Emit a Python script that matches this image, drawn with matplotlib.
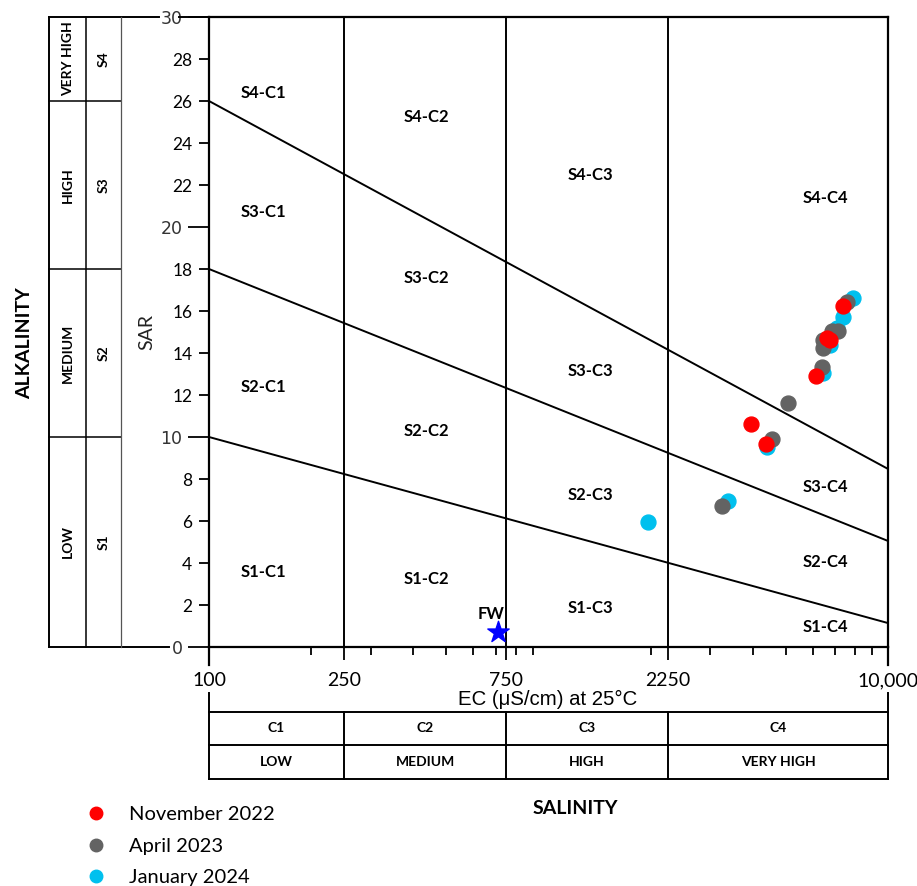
import matplotlib
matplotlib.use('Agg')
import matplotlib.pyplot as plt
from matplotlib.transforms import blended_transform_factory
from matplotlib.ticker import FixedLocator, FixedFormatter, NullFormatter
from matplotlib.lines import Line2D

# ---------------- data ----------------
nov_ec = [7358, 6597, 6747, 6124, 3950, 4362]
nov_sar = [16.24, 14.70, 14.62, 12.92, 10.62, 9.67]
apr_ec = [7555, 7139, 6825, 6421, 6448, 6378, 5086, 4544, 3237]
apr_sar = [16.44, 15.05, 15.05, 14.62, 14.22, 13.35, 11.60, 9.89, 6.71]
jan_ec = [7901, 7358, 7063, 6747, 6448, 4410, 3385, 1968]
jan_sar = [16.60, 15.70, 15.21, 14.38, 13.03, 9.51, 6.97, 5.94]
fw_ec = [711]
fw_sar = [0.73]

series_labels = ['November 2022', 'April 2023', 'January 2024']

ec_bounds = [100, 250, 750, 2250, 10000]
ec_tick_labels = ['100', '250', '750', '2250', '10,000']
ec_classes = ['C1', 'C2', 'C3', 'C4']
ec_hazard = ['LOW', 'MEDIUM', 'HIGH', 'VERY HIGH']
sar_bounds = [0, 10, 18, 26, 30]
sar_classes = ['S1', 'S2', 'S3', 'S4']
sar_hazard = ['LOW', 'MEDIUM', 'HIGH', 'VERY HIGH']
# SAR class boundary lines: SAR at EC=100 and at EC=10000
line_sar_left = [10, 18, 26]
line_sar_right = [1.14, 5.05, 8.48]

region_names = ['S4-C1', 'S4-C2', 'S4-C3', 'S4-C4',
                'S3-C1', 'S3-C2', 'S3-C3', 'S3-C4',
                'S2-C1', 'S2-C2', 'S2-C3', 'S2-C4',
                'S1-C1', 'S1-C2', 'S1-C3', 'S1-C4']
# label anchor positions (layout), EC and SAR coordinates
region_pos = [(145, 26.38), (438, 25.24), (1325, 22.48), (6560, 21.38),
              (145, 20.71), (438, 17.57), (1325, 13.14), (6560, 7.62),
              (145, 12.38), (438, 10.29), (1325, 7.24), (6560, 4.05),
              (145, 3.57), (438, 3.24), (1325, 1.86), (6560, 0.95)]

# ---------------- layout ----------------
W, H = 917, 886
fig = plt.figure(figsize=(W / 100, H / 100), dpi=100)
ax = fig.add_axes([209 / W, 1 - 647 / H, (888 - 209) / W, (647 - 17) / H])
ax.set_xscale('log')
ax.set_xlim(100, 10000)
ax.set_ylim(0, 30)

CAL = ['Lato', 'DejaVu Sans']
ARI = ['Liberation Sans', 'DejaVu Sans']

for s in ax.spines.values():
    s.set_linewidth(1.6)
    s.set_color('black')

# y ticks
major_y = [0, 10, 20, 30]
minor_y = [2, 4, 6, 8, 12, 14, 16, 18, 22, 24, 26, 28]
ax.yaxis.set_major_locator(FixedLocator(major_y))
ax.yaxis.set_major_formatter(FixedFormatter([str(v) for v in major_y]))
ax.yaxis.set_minor_locator(FixedLocator(minor_y))
ax.yaxis.set_minor_formatter(FixedFormatter([str(v) for v in minor_y]))
ax.tick_params(axis='y', which='major', length=15, width=1.3, pad=4,
               labelsize=12.5, direction='out')
ax.tick_params(axis='y', which='minor', length=7, width=1.3, pad=5,
               labelsize=12.5, direction='out')
for t in ax.yaxis.get_majorticklabels():
    t.set_family(['DejaVu Sans'])
    t.set_color('#333333')
for t in ax.yaxis.get_minorticklabels():
    t.set_family(CAL)

# x ticks (log minor ticks; labels placed below separately)
minor_x = [200, 300, 400, 500, 600, 700, 800, 900, 2000, 3000, 4000, 5000,
           6000, 7000, 8000, 9000]
ax.xaxis.set_major_locator(FixedLocator(ec_bounds[1:-1]))
ax.xaxis.set_major_formatter(NullFormatter())
ax.xaxis.set_minor_locator(FixedLocator(minor_x))
ax.xaxis.set_minor_formatter(NullFormatter())
ax.tick_params(axis='x', which='major', length=9, width=1.3, direction='out')
ax.tick_params(axis='x', which='minor', length=6, width=1.3, direction='out')

# class boundary lines
for x in ec_bounds[1:-1]:
    ax.axvline(x, color='black', lw=1.4, zorder=2)
for yl, yr in zip(line_sar_left, line_sar_right):
    ax.plot([ec_bounds[0], ec_bounds[-1]], [yl, yr], color='black', lw=1.4, zorder=2)

for name, (ex, sy) in zip(region_names, region_pos):
    ax.text(ex, sy, name, ha='center', va='center', fontsize=12,
            fontweight='bold', family=CAL, zorder=3)

# data points
c_nov, c_apr, c_jan = '#FF0000', '#636363', '#00C0EE'
ax.scatter(jan_ec, jan_sar, s=115, color=c_jan, zorder=4, clip_on=False)
ax.scatter(apr_ec, apr_sar, s=115, color=c_apr, zorder=5, clip_on=False)
ax.scatter(nov_ec, nov_sar, s=115, color=c_nov, zorder=6, clip_on=False)
ax.scatter(fw_ec, fw_sar, s=260, marker='*', color='#0000FF', zorder=6, clip_on=False)
ax.annotate('FW', (fw_ec[0], fw_sar[0]), xytext=(-5, 13), textcoords='offset points',
            ha='center', va='center', fontsize=12, fontweight='bold', family=CAL)

# ---------------- decorations overlay ----------------
deco = fig.add_axes([0, 0, 1, 1])
deco.set_xlim(0, W)
deco.set_ylim(H, 0)
deco.axis('off')
deco.patch.set_visible(False)

trx = blended_transform_factory(ax.transData, deco.transData)   # x=EC, y=pixel
try_ = blended_transform_factory(deco.transData, ax.transData)  # x=pixel, y=SAR
LW = 1.4

deco.text(147, 332, 'SAR', rotation=90, ha='center', va='center',
          fontsize=14, family=CAL, color='#222222')

# x tick labels
for v, lab in zip(ec_bounds, ec_tick_labels):
    deco.text(v, 681, lab, transform=trx, ha='center', va='center',
              fontsize=14, family=CAL)
# ends of x axis extending to table
for v in (ec_bounds[0], ec_bounds[-1]):
    deco.plot([v, v], [647, 665], transform=trx, color='black', lw=1.6, clip_on=False)
    deco.plot([v, v], [693, 779], transform=trx, color='black', lw=1.4, clip_on=False)

deco.text(548, 699, 'EC (\u03bcS/cm) at 25\u00b0C', ha='center', va='center',
          fontsize=14.7, family=ARI)

# bottom table
for yy in (712, 745, 779):
    deco.plot([ec_bounds[0], ec_bounds[-1]], [yy, yy], transform=trx,
              color='black', lw=LW, clip_on=False)
for v in ec_bounds[1:-1]:
    deco.plot([v, v], [712, 779], transform=trx, color='black', lw=LW, clip_on=False)
for i in range(4):
    xc = (ec_bounds[i] * ec_bounds[i + 1]) ** 0.5
    deco.text(xc, 728.5, ec_classes[i], transform=trx, ha='center', va='center',
              fontsize=10, fontweight='bold', family=CAL)
    deco.text(xc, 762, ec_hazard[i], transform=trx, ha='center', va='center',
              fontsize=10, fontweight='bold', family=CAL)

deco.text(575, 808, 'SALINITY', ha='center', va='center', fontsize=14,
          fontweight='bold', family=CAL)

# left table
deco.plot([49, 159], [30, 30], transform=try_, color='black', lw=LW, clip_on=False)
deco.plot([179, 209], [30, 30], transform=try_, color='black', lw=LW, clip_on=False)
deco.plot([49, 169], [0, 0], transform=try_, color='black', lw=LW, clip_on=False)
for yv in sar_bounds[1:-1]:
    deco.plot([49, 121], [yv, yv], transform=try_, color='black', lw=1.1, clip_on=False)
deco.plot([49, 49], [0, 30], transform=try_, color='black', lw=LW, clip_on=False)
deco.plot([86, 86], [0, 30], transform=try_, color='black', lw=1.1, clip_on=False)
deco.plot([121, 121], [0, 30], transform=try_, color='#555555', lw=0.9, clip_on=False)
for i in range(4):
    yc = (sar_bounds[i] + sar_bounds[i + 1]) / 2
    deco.text(68, yc, sar_hazard[i], transform=try_, rotation=90, ha='center',
              va='center', fontsize=10, fontweight='bold', family=CAL)
    deco.text(104, yc, sar_classes[i], transform=try_, rotation=90, ha='center',
              va='center', fontsize=10, fontweight='bold', family=CAL)

deco.text(25, 343, 'ALKALINITY', rotation=90, ha='center', va='center',
          fontsize=14, fontweight='bold', family=CAL)

# legend
leg_handles = [Line2D([], [], ls='none', marker='o', markersize=9, color=c)
               for c in (c_nov, c_apr, c_jan)]
fig.legend(leg_handles, series_labels, loc='upper left',
           bbox_to_anchor=(73 / W, 1 - 798 / H), frameon=False,
           prop={'family': CAL, 'size': 14.5}, handletextpad=0.9,
           labelspacing=0.72, handlelength=1.5, borderaxespad=0)

fig.savefig('out.png', dpi=100)
